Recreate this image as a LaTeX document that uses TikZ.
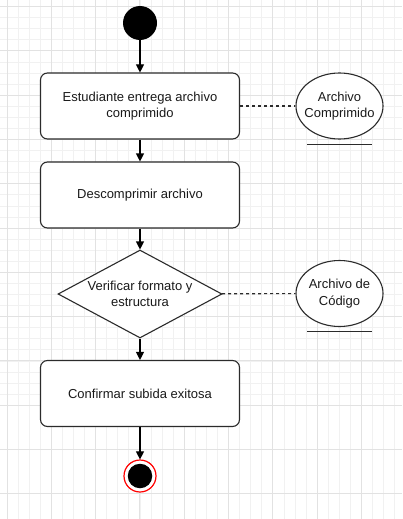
\documentclass[tikz,border=0pt]{standalone}
\usepackage{fontspec}
\setmainfont{Liberation Sans}
\usetikzlibrary{shapes.geometric,arrows.meta}
\definecolor{gmajor}{HTML}{E2E2E2}
\definecolor{gminor}{HTML}{F1F1F1}
\definecolor{edgec}{HTML}{2B2B2B}
\definecolor{txt}{HTML}{1A1A1A}
\begin{document}
\begin{tikzpicture}[x=1pt,y=-1pt,
  act/.style={draw=edgec, line width=1.1pt, rounded corners=7pt, fill=white,
    minimum width=199pt, minimum height=66pt, align=center, text=txt,
    font=\fontsize{13}{16.5}\selectfont},
  obj/.style={draw=edgec, ellipse, fill=white, line width=1.1pt,
    minimum width=87pt, minimum height=66pt, inner sep=0pt},
  lbl/.style={align=center, text=txt, font=\fontsize{13}{16.5}\selectfont},
  flow/.style={-{Triangle[length=8pt,width=8pt]}, line width=1.1pt, draw=black},
  assoc/.style={dash pattern=on 3pt off 3pt, line width=1.1pt, draw=edgec},
  uline/.style={line width=1.1pt, draw=edgec},
  minorline/.style={draw=gminor, line width=0.7pt},
  majorline/.style={draw=gmajor, line width=0.9pt}]
\useasboundingbox[fill=white] (0,0) rectangle (402,519);
% grid
\foreach \k in {0,...,37} {
  \draw[minorline] ({7+(\k-1)*11.075},0) -- ({7+(\k-1)*11.075},519);
  \draw[minorline] (0,{6.5+(\k-1)*11.075}) -- (402,{6.5+(\k-1)*11.075});
}
\foreach \k in {0,...,11} {
  \draw[majorline] ({7+\k*44.3},0) -- ({7+\k*44.3},519);
  \draw[majorline] (0,{6.5+\k*44.3}) -- (402,{6.5+\k*44.3});
}
% nodes
\node[circle, fill=black, minimum size=34pt, inner sep=0pt] (start) at (140,23) {};
\node[act] (b1) at (140,106) {Estudiante entrega archivo\\comprimido};
\node[obj, label={[lbl]center:Archivo\\Comprimido}] (o1) at (339.5,106) {};
\node[act] (b2) at (140,195) {Descomprimir archivo};
\node[diamond, draw=edgec, line width=1.1pt, fill=white, minimum width=164pt,
  minimum height=88pt, inner sep=0pt,
  label={[lbl]center:Verificar formato y\\estructura}] (d) at (140,294) {};
\node[obj, label={[lbl]center:Archivo de\\Código}] (o2) at (339.5,293.5) {};
\node[act] (b3) at (140,393.5) {Confirmar subida exitosa};
\node[circle, draw=red, line width=1.2pt, fill=white, minimum size=32pt, inner sep=0pt] (end) at (140,476) {};
\node[circle, fill=black, minimum size=24.5pt, inner sep=0pt] (endin) at (end.center) {};
% underlines
\draw[uline] ([xshift=-32.5pt,yshift=-5pt]o1.south) -- ([xshift=32.5pt,yshift=-5pt]o1.south);
\draw[uline] ([xshift=-32.5pt,yshift=-4pt]o2.south) -- ([xshift=32.5pt,yshift=-4pt]o2.south);
% connectors
\draw[flow] (start) -- (b1);
\draw[flow] (b1) -- (b2);
\draw[flow] (b2) -- (d);
\draw[flow] (d) -- (b3);
\draw[flow] (b3) -- (end);
\draw[assoc] (b1) -- (o1);
\draw[assoc] (d) -- (o2);
\end{tikzpicture}
\end{document}
